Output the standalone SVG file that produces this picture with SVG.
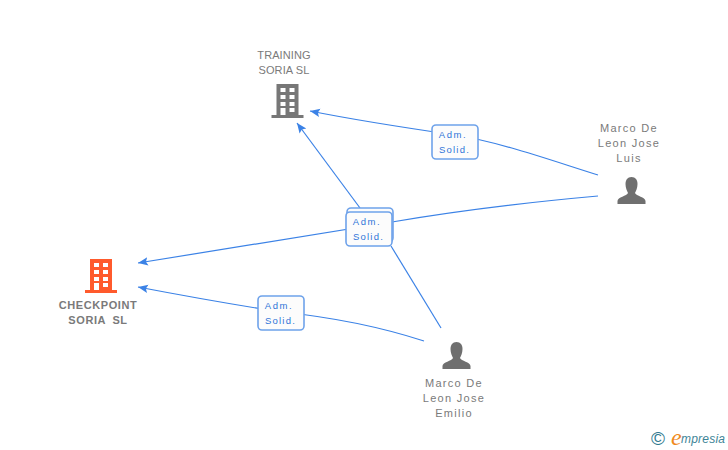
<svg xmlns="http://www.w3.org/2000/svg" width="728" height="450" viewBox="0 0 728 450">
<style>
.n{font-family:"Liberation Sans",Arial,sans-serif;font-size:11px;fill:#7a7a7a;text-anchor:middle;letter-spacing:1.3px}
.u{letter-spacing:.1px}
.b{font-weight:bold;letter-spacing:.6px;word-spacing:3px}
.l{font-family:"Liberation Sans",Arial,sans-serif;font-size:9.5px;fill:#2f74d8;text-anchor:middle;letter-spacing:1.2px}
.ad{letter-spacing:1.6px}
.c{fill:none;stroke:#3b82e6;stroke-width:1.2}
.box{fill:#fcfcfc;stroke:#6ea2ea;stroke-width:1.6}
.w{fill:#fff}
</style>
<defs>
<marker id="a" markerWidth="11" markerHeight="10" refX="10" refY="5" orient="auto" markerUnits="userSpaceOnUse"><path d="M0 0.8L10 5L0 9.2L2 5Z" fill="#3b82e6"/></marker>
<g id="bld">
<path d="M-11 -17H11V14H16V17H-16V14H-11Z"/>
<g class="w"><rect x="-7" y="-13" width="5" height="4"/><rect x="2" y="-13" width="5" height="4"/><rect x="-7" y="-6" width="5" height="4"/><rect x="2" y="-6" width="5" height="4"/><rect x="-7" y="1" width="5" height="4"/><rect x="2" y="1" width="5" height="4"/><rect x="-7" y="7" width="5" height="7"/><rect x="2" y="7" width="5" height="4"/></g>
</g>
<path id="per" d="M0 -14C4 -14 6 -11 6 -7C6 -3 4.500 0 3.500 2C4.500 5 14 6 14 10V13H-14V10C-14 6 -4.500 5 -3.500 2C-4.500 0 -6 -3 -6 -7C-6 -11 -4 -14 0 -14Z"/>
</defs>
<g id="connectors">
<path class="c" marker-end="url(#a)" d="M598 175C550 160 500 142 455 135C400 127 350 119 310 111"/>
<path class="c" marker-end="url(#a)" d="M360 208L297 123"/>
<path class="c" marker-end="url(#a)" d="M598 196C520 203 450 212 392 222L138 263"/>
<path class="c" d="M391 246L441 328"/>
<path class="c" marker-end="url(#a)" d="M424 341C390 330 340 318 281 312C230 304 185 296 138 287"/>
</g>
<g id="node-training"><use href="#bld" x="287.500" y="101" fill="#777"/><text class="n u" x="284" y="59">TRAINING</text><text class="n u" x="284" y="74">SORIA SL</text></g>
<g id="node-checkpoint"><use href="#bld" x="101" y="276" fill="#ff5a2c"/><text class="n b" x="98" y="309">CHECKPOINT</text><text class="n b" x="98" y="324">SORIA SL</text></g>
<g id="node-luis"><use href="#per" x="631.500" y="191" fill="#6f6f6f"/><text class="n" x="629" y="132">Marco De</text><text class="n" x="629" y="147">Leon Jose</text><text class="n" x="629" y="162">Luis</text></g>
<g id="node-emilio"><use href="#per" x="456.500" y="356" fill="#6f6f6f"/><text class="n" x="454" y="387">Marco De</text><text class="n" x="454" y="402">Leon Jose</text><text class="n" x="454" y="417">Emilio</text></g>
<g id="label-1"><rect class="box" x="432" y="125" width="46" height="34" rx="4"/><text class="l ad" x="453" y="138">Adm.</text><text class="l" x="454.500" y="153">Solid.</text></g>
<g id="label-2"><rect class="box" x="347" y="208" width="46" height="34" rx="4"/><rect class="box" x="346" y="212" width="46" height="34" rx="4"/><text class="l ad" x="367" y="225">Adm.</text><text class="l" x="368.500" y="240">Solid.</text></g>
<g id="label-3"><rect class="box" x="258" y="296" width="46" height="34" rx="4"/><text class="l ad" x="279" y="309">Adm.</text><text class="l" x="280.500" y="324">Solid.</text></g>
<g id="credit"><text x="658" y="445" font-family="Liberation Sans,sans-serif" font-size="19" fill="#2f7a90" text-anchor="middle">©</text><text x="671" y="445" font-family="Liberation Serif,serif" font-style="italic" font-size="24" fill="#f08a1c">e</text><text x="681" y="443" font-family="Liberation Sans,sans-serif" font-style="italic" font-size="12" fill="#3e8497" textLength="44">mpresia</text></g>
</svg>
